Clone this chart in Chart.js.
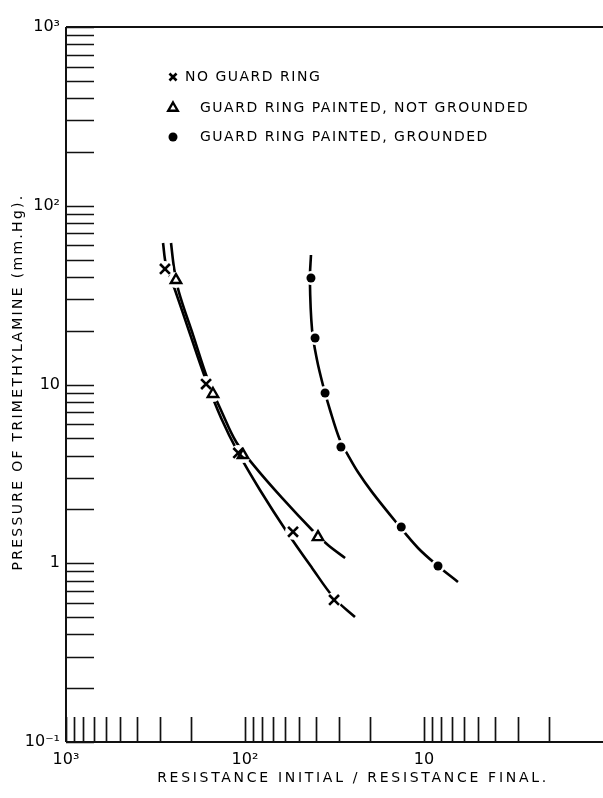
<!DOCTYPE html>
<html>
<head>
<meta charset="utf-8">
<script src="https://cdn.jsdelivr.net/npm/chart.js@4.4.1/dist/chart.umd.min.js"></script>
<style>
  html, body { margin: 0; padding: 0; background: #fff; }
  #wrap { width: 603px; height: 798px; position: relative; }
</style>
</head>
<body>
<div id="wrap"><canvas id="grafica"></canvas></div>
<script>
// measured points (x = R initial / R final, y = pressure mm Hg)
const noRingX = [280, 165, 109, 53.9, 31.8];
const noRingY = [44.3, 10.06, 4.14, 1.50, 0.623];
const notGroundedX = [243, 151, 102.6, 39.1];
const notGroundedY = [38.4, 8.85, 4.03, 1.40];
const groundedX = [42.8, 40.6, 35.7, 29.1, 13.4, 8.35];
const groundedY = [39.4, 18.2, 8.96, 4.47, 1.595, 0.965];

// faired curves
const noRingCurveX = [287, 276, 246, 203, 167, 136, 109, 82.5, 58.3, 42.2, 31.8, 24.3];
const noRingCurveY = [61.9, 46.6, 33.8, 19.2, 10.9, 6.49, 4.14, 2.57, 1.496, 0.941, 0.639, 0.50];
const notGroundedCurveX = [259, 249, 234, 195, 161, 134, 112, 87.9, 62.1, 42.2, 34.4, 27.6];
const notGroundedCurveY = [61.9, 44.8, 32.9, 18.9, 10.6, 6.93, 4.77, 3.46, 2.32, 1.535, 1.265, 1.07];
const groundedCurveX = [42.8, 43.4, 42.2, 39.6, 36.7, 33.5, 29.5, 26.6, 23.4, 19.5, 14.2, 10.8, 8.35, 6.46];
const groundedCurveY = [53.0, 38.4, 20.2, 13.7, 9.94, 7.20, 4.89, 4.03, 3.24, 2.50, 1.68, 1.217, 0.965, 0.785];

const seriesNames = ['NO GUARD RING', 'GUARD RING PAINTED, NOT GROUNDED', 'GUARD RING PAINTED, GROUNDED'];

// axis labels
const xDecades = [1000, 100, 10];
const xDecadeLabels = ['10³', '10²', '10'];
const yDecades = [1000, 100, 10, 1, 0.1];
const yDecadeLabels = ['10³', '10²', '10', '1', '10⁻¹'];

const pts = (xs, ys) => xs.map((x, i) => ({ x: x, y: ys[i] }));

// 1..9 in every decade between lo and hi
function logTicks(lo, hi) {
  const t = [];
  for (let d = lo; d < hi * 0.999; d *= 10) {
    for (let k = 1; k < 10; k++) t.push({ value: +(k * d).toPrecision(3) });
  }
  t.push({ value: hi });
  return t;
}

const FONT = '"DejaVu Sans", sans-serif';

const curveStyle = {
  showLine: true, pointRadius: 0, borderColor: '#000', borderWidth: 2.6,
  tension: 0.35, order: 3, fill: false
};
const haloStyle = {
  showLine: false, pointRadius: 8, pointBackgroundColor: '#fff',
  pointBorderWidth: 0, pointBorderColor: '#fff', order: 2
};

// ticks on the inside of the frame + frame lines + legend + axis titles
const frame = {
  id: 'frame',
  afterDraw(chart) {
    const { ctx, chartArea: a, scales: { x, y } } = chart;
    ctx.save();
    ctx.strokeStyle = '#111';
    ctx.lineWidth = 1.7;
    ctx.beginPath();
    y.ticks.forEach(t => {
      const py = Math.round(y.getPixelForValue(t.value)) + 0.5;
      ctx.moveTo(a.left, py); ctx.lineTo(a.left + 28, py);
    });
    x.ticks.forEach(t => {
      if (t.value <= 1) return;
      const px = Math.round(x.getPixelForValue(t.value)) + 0.5;
      ctx.moveTo(px, a.bottom); ctx.lineTo(px, a.bottom - 25);
    });
    ctx.stroke();

    ctx.lineWidth = 2;
    ctx.beginPath();
    ctx.moveTo(a.left, a.top); ctx.lineTo(a.right, a.top);
    ctx.moveTo(a.left, a.top); ctx.lineTo(a.left, a.bottom);
    ctx.moveTo(a.left, a.bottom); ctx.lineTo(a.right, a.bottom);
    ctx.stroke();

    // legend
    const rowsY = [77, 108, 137];
    const textX = [185, 200, 200];
    const legendSize = [5, 5.5, 4.5];
    const marks = [chart.data.datasets[6], chart.data.datasets[7], chart.data.datasets[8]];
    ctx.font = '14px ' + FONT;
    ctx.letterSpacing = '1.5px';
    ctx.textBaseline = 'middle';
    ctx.textAlign = 'left';
    marks.forEach((m, i) => {
      ctx.strokeStyle = '#000';
      ctx.fillStyle = m.pointBackgroundColor;
      ctx.lineWidth = m.pointBorderWidth;
      Chart.helpers.drawPoint(ctx, {
        pointStyle: m.pointStyle, radius: legendSize[i], rotation: 0,
        borderWidth: m.pointBorderWidth
      }, 173, rowsY[i]);
      ctx.fillStyle = '#000';
      ctx.fillText(m.label, textX[i], rowsY[i]);
    });

    // axis titles
    ctx.textAlign = 'center';
    ctx.letterSpacing = '2.7px';
    ctx.fillText('RESISTANCE INITIAL / RESISTANCE FINAL.', 353, 778);
    ctx.translate(18, 382);
    ctx.rotate(-Math.PI / 2);
    ctx.letterSpacing = '2.3px';
    ctx.fillText('PRESSURE OF TRIMETHYLAMINE (mm.Hg).', 0, 0);
    ctx.restore();
  }
};

const ctx1 = document.getElementById('grafica').getContext('2d');

new Chart(ctx1, {
  type: 'scatter',
  data: {
    datasets: [
      { ...curveStyle, label: 'c1', data: pts(noRingCurveX, noRingCurveY) },
      { ...curveStyle, label: 'c2', data: pts(notGroundedCurveX, notGroundedCurveY) },
      { ...curveStyle, label: 'c3', data: pts(groundedCurveX, groundedCurveY) },
      { ...haloStyle, label: 'h1', data: pts(noRingX, noRingY) },
      { ...haloStyle, label: 'h2', data: pts(notGroundedX, notGroundedY) },
      { ...haloStyle, label: 'h3', data: pts(groundedX, groundedY), pointRadius: 7 },
      {
        label: seriesNames[0], data: pts(noRingX, noRingY), order: 1,
        pointStyle: 'crossRot', pointRadius: 7, pointBorderWidth: 2.6,
        pointBorderColor: '#000', pointBackgroundColor: '#000'
      },
      {
        label: seriesNames[1], data: pts(notGroundedX, notGroundedY), order: 1,
        pointStyle: 'triangle', pointRadius: 6, pointBorderWidth: 2.4,
        pointBorderColor: '#000', pointBackgroundColor: '#fff'
      },
      {
        label: seriesNames[2], data: pts(groundedX, groundedY), order: 1,
        pointStyle: 'circle', pointRadius: 4.5, pointBorderWidth: 0,
        pointBorderColor: '#000', pointBackgroundColor: '#000'
      }
    ]
  },
  options: {
    responsive: true,
    maintainAspectRatio: false,
    animation: false,
    // no automatic room for the point markers, the frame goes to the right edge
    layout: { autoPadding: false, padding: { top: 27, right: 0, left: 0, bottom: 0 } },
    plugins: {
      legend: { display: false },
      tooltip: { enabled: false }
    },
    scales: {
      x: {
        type: 'logarithmic',
        reverse: true,
        min: 1,
        max: 1000,
        // reversed axis: first tick is the left one
        afterBuildTicks: s => { s.ticks = logTicks(1, 1000).reverse(); },
        afterFit: s => { s.height = 56; },
        grid: { display: false, drawTicks: false },
        border: { display: false },
        ticks: {
          // tick padding would also be kept free at the right end, so push labels down with line height
          autoSkip: false, maxRotation: 0, padding: 0, color: '#000',
          font: { family: FONT, size: 16, lineHeight: 2.2 },
          callback: v => { const i = xDecades.indexOf(v); return i < 0 ? '' : xDecadeLabels[i]; }
        }
      },
      y: {
        type: 'logarithmic',
        min: 0.1,
        max: 1000,
        afterBuildTicks: s => { s.ticks = logTicks(0.1, 1000); },
        afterFit: s => { s.width = 66; },
        grid: { display: false, drawTicks: false },
        border: { display: false },
        ticks: {
          autoSkip: false, padding: 6, color: '#000',
          font: { family: FONT, size: 16 },
          callback: v => { const i = yDecades.indexOf(v); return i < 0 ? '' : yDecadeLabels[i]; }
        }
      }
    }
  },
  plugins: [frame]
});
</script>
</body>
</html>
